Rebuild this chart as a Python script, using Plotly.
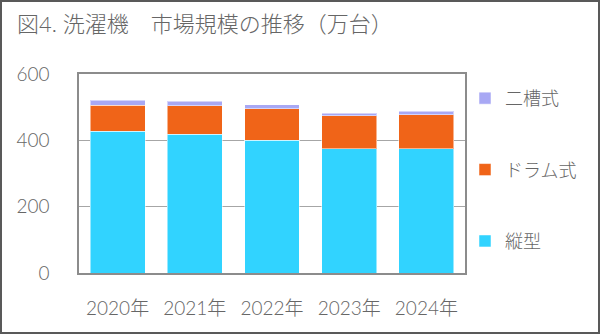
import plotly.graph_objects as go

years = ["2020年", "2021年", "2022年", "2023年", "2024年"]
vertical = [428, 418, 400, 374, 374]     # 縦型
drum = [78, 87, 95, 100, 103]            # ドラム式
twin_tub = [15, 13, 13, 8, 10]           # 二槽式

series = [
    ("縦型", vertical, "#31D3FF"),
    ("ドラム式", drum, "#F06418"),
    ("二槽式", twin_tub, "#A8A8F4"),
]

W, H = 600, 334
ML, MR, MT, MB = 79, 135, 74, 61
PW, PH = W - ML - MR, H - MT - MB

font_family = "Lato, 'Noto Sans CJK JP', sans-serif"
text_color = "#666666"

fig = go.Figure()
for i, (name, vals, color) in enumerate(series):
    fig.add_trace(go.Bar(
        x=years, y=vals, name=name,
        marker=dict(color=color, line=dict(color="rgba(255,255,255,0.5)", width=1)),
        legendgroup=f"g{i}", legendrank=len(series) - i,
    ))

# outer frame of the whole figure, in paper coordinates
fx0, fx1 = -ML / PW, (W - ML) / PW
fy0, fy1 = -MB / PH, (H - MB) / PH
fig.add_shape(type="rect", xref="paper", yref="paper",
              x0=fx0 + 1 / PW, x1=fx1 - 1 / PW, y0=fy0 + 1 / PH, y1=fy1 - 1 / PH,
              line=dict(color="#595959", width=2), layer="above")

fig.update_layout(
    width=W, height=H,
    margin=dict(l=ML, r=MR, t=MT, b=MB),
    barmode="stack", bargap=0.29,
    paper_bgcolor="white", plot_bgcolor="white",
    font=dict(family=font_family, color=text_color, size=18, weight=300),
    title=dict(text="図4. 洗濯機　市場規模の推移（万台）",
               x=17 / W, xanchor="left", y=1 - 17 / H, yanchor="top",
               xref="container", yref="container",
               font=dict(size=22, color=text_color, family=font_family, weight=300)),
    legend=dict(x=1.0, xanchor="left", y=0.97, yanchor="top",
                traceorder="grouped", tracegroupgap=45,
                font=dict(size=18, color=text_color, weight=300), itemwidth=30,
                bgcolor="rgba(0,0,0,0)"),
    xaxis=dict(showline=True, linecolor="#8C8C8C", linewidth=1.5, mirror=True,
               ticks="", ticklabelstandoff=17,
               tickfont=dict(size=19, color=text_color, weight=300)),
    yaxis=dict(range=[0, 600], tickvals=[0, 200, 400, 600],
               showline=True, linecolor="#8C8C8C", linewidth=1.5, mirror=True,
               showgrid=True, gridcolor="#A6A6A6", gridwidth=1,
               zeroline=False, ticks="", ticklabelstandoff=24,
               tickfont=dict(size=19, color=text_color, weight=300)),
)

fig.write_html("out.html")
